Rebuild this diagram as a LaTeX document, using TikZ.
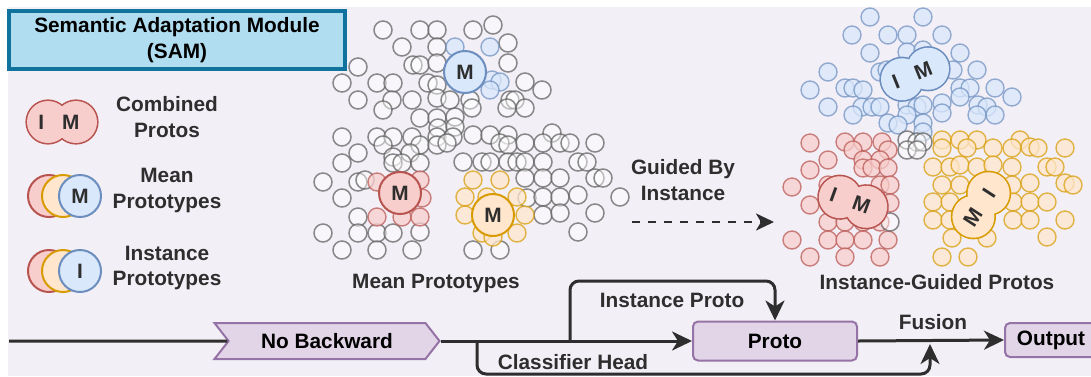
\documentclass[tikz,border=0pt]{standalone}
\usepackage{fontspec}
\setmainfont{Liberation Sans}
\usetikzlibrary{arrows.meta,shapes.symbols}

\definecolor{bgL}{HTML}{F3EFF6}
\definecolor{txtC}{HTML}{2E2E2E}
\definecolor{lineC}{HTML}{2E2E2E}
\definecolor{samF}{HTML}{B1DDF0}
\definecolor{samD}{HTML}{10739E}
\definecolor{redF}{HTML}{F8CECC}
\definecolor{redD}{HTML}{B85450}
\definecolor{yelF}{HTML}{FFE6CC}
\definecolor{yelD}{HTML}{D79B00}
\definecolor{bluF}{HTML}{DAE8FC}
\definecolor{bluD}{HTML}{6C8EBF}
\definecolor{purF}{HTML}{E1D5E7}
\definecolor{purD}{HTML}{9673A6}
\definecolor{grayD}{HTML}{5A5A5A}

\tikzset{
  pics/combo/.style n args={4}{code={
    \draw[draw=#2, line width=3.2pt] (-14,0) circle[radius=21] (14,0) circle[radius=21];
    \fill[#1] (-14,0) circle[radius=21] (14,0) circle[radius=21];
    \node[txt, transform shape] (-lbl) at (-3,0) {#3\hspace{18pt}#4};
  }}
}

\begin{document}
\begin{tikzpicture}[x=1pt,y=-1pt,
    txt/.style={font=\bfseries\fontsize{20.8}{25.5}\selectfont, text=txtC,
      align=center, inner sep=0pt},
    gdot/.style={draw=grayD, fill=white, draw opacity=.7, fill opacity=.45, line width=1.5pt},
    rdot/.style={draw=redD, fill=redF, draw opacity=.7, fill opacity=.75, line width=1.4pt},
    ydot/.style={draw=yelD, fill=yelF, draw opacity=.7, fill opacity=.75, line width=1.4pt},
    bdot/.style={draw=bluD, fill=bluF, draw opacity=.7, fill opacity=.75, line width=1.4pt},
    bigdot/.style={line width=2pt},
    box/.style={draw=purD, fill=purF, line width=2pt, rounded corners=5,
      font=\bfseries\fontsize{20.8}{25.5}\selectfont, inner sep=0pt},
    sig/.style={signal, signal to=east, signal from=west, signal pointer angle=104,
      draw=purD, fill=purF, line width=2pt,
      font=\bfseries\fontsize{20.8}{25.5}\selectfont, inner sep=0pt},
    flow/.style={draw=lineC, line width=3pt},
    arr/.style={-{Stealth[length=20pt,width=19pt,inset=6pt]}}]
  \useasboundingbox (0,0) rectangle (1091,376);
  \fill[white] (0,0) rectangle (1091,376);
  \fill[bgL] (8,7) rectangle (1091,376);

  % title
  \node[draw=samD, fill=samF, line width=4pt, minimum width=336, minimum height=58,
    font=\bfseries\fontsize{20.8}{25.5}\selectfont, align=center, inner sep=0pt]
    (sam) at (177,40) {Semantic Adaptation Module\\(SAM)};

  % legend
  \pic[rotate=0] (lgC) at (62,122) {combo={redF}{redD}{I}{M}};
  \node[txt] (lgCtxt) at (167,117) {Combined\\Protos};
  \foreach \yy/\ll/\nm in {196/M/lgM, 271/I/lgI} {
    \draw[bigdot, draw=redD, fill=redF] (49,\yy) circle[radius=21];
    \draw[bigdot, draw=yelD, fill=yelF] (63,\yy) circle[radius=21];
    \draw[bigdot, draw=bluD, fill=bluF] (80,\yy) circle[radius=21];
    \node[txt] (\nm) at (80,\yy) {\ll};
  }
  \node[txt] (lgMtxt) at (167,190.5) {Mean\\Prototypes};
  \node[txt] (lgItxt) at (167,268) {Instance\\Prototypes};

  % mean prototypes cloud
  \foreach \x/\y in {383/30,420/30,437/30,473/30,493/25,402/47,437/47,508/43,
      358/67,413/65,420/65,437/63,508/63,342/83,377/83,393/83,428/83,437/85,525/82,542/90,
      358/100,392/100,412/100,437/98,450/100,470/100,510/100,515/100,
      383/110,420/118,437/118,455/117,472/108,507/108,525/108,438/128,455/127,
      342/137,377/137,393/137,412/137,437/137,453/137,473/135,490/135,508/135,552/133,
      383/145,420/145,437/145,447/143,500/143,508/145,525/143,543/143,560/143,570/143,595/143,
      358/153,393/157,410/153,342/163,393/163,402/163,420/163,463/162,482/162,490/162,
      508/162,517/162,525/162,543/162,578/162,587/162,
      323/182,358/182,365/180,525/178,543/178,560/178,595/178,603/178,
      342/198,527/198,543/197,560/197,578/195,620/197,358/217,543/215,560/213,595/213,
      323/233,358/233,377/233,393/233,420/232,578/232,342/250,377/250,412/250,473/250,500/250}
    \draw[gdot] (\x,\y) circle[radius=9];
  \foreach \x/\y in {455/47,490/47,492/80,500/82,490/90}
    \draw[bdot] (\x,\y) circle[radius=9];
  \foreach \x/\y in {377/182,420/180,422/198,377/217,402/217,420/217}
    \draw[rdot] (\x,\y) circle[radius=9];
  \foreach \x/\y in {473/180,500/180,465/197,487/197,517/197,465/215,525/215,482/233,517/233,493/237}
    \draw[ydot] (\x,\y) circle[radius=9];
  \draw[bigdot, draw=bluD, fill=bluF] (465,72) circle[radius=21];
  \node[txt] (mB) at (465,72) {M};
  \draw[bigdot, draw=redD, fill=redF] (400,193) circle[radius=21];
  \node[txt] (mR) at (400,193) {M};
  \draw[bigdot, draw=yelD, fill=yelF] (493,215) circle[radius=21];
  \node[txt] (mY) at (493,215) {M};
  \node[txt] (meanLbl) at (436,283) {Mean Prototypes};

  % guided by instance
  \node[txt] (guide) at (683,180) {Guided By\\Instance};
  \coordinate (g1) at (632,222);
  \coordinate (g2) at (774,222);
  \draw[flow, -{Stealth[length=18pt,width=17pt,inset=5pt]}, line width=2.6pt,
    dash pattern=on 8pt off 8pt] (g1) -- (g2);

  % instance-guided cloud
  \foreach \x/\y in {870/17,923/17,852/35,888/35,907/35,942/35,870/53,907/52,923/50,960/53,
      828/72,880/72,887/70,953/70,977/70,810/90,845/88,853/88,863/90,960/88,970/88,995/88,1012/97,
      828/107,862/107,872/107,880/107,907/105,917/107,923/105,942/103,960/97,978/105,987/107,
      853/115,907/115,942/113,977/115,995/115,888/123,898/125,923/123,923/132}
    \draw[bdot] (\x,\y) circle[radius=9];
  \foreach \x/\y in {907/140,917/142,923/142,907/150,917/150}
    \draw[gdot] (\x,\y) circle[radius=9];
  \foreach \x/\y in {810/143,845/142,863/142,882/142,853/150,888/150,828/160,863/160,880/160,
      810/170,863/168,872/168,888/168,792/187,828/185,880/185,890/185,810/205,890/203,
      828/222,845/222,863/222,880/222,792/240,828/240,845/240,863/240,888/240,810/257,845/257,880/257}
    \draw[rdot] (\x,\y) circle[radius=9];
  \draw[gdot] (890,222) circle[radius=9];
  \foreach \x/\y in {942/140,960/140,977/140,1020/140,942/148,967/148,993/148,1012/148,1030/147,
      1038/148,1065/148,933/167,950/167,960/165,977/167,993/165,1012/167,1047/167,1055/167,
      942/185,960/185,1012/185,1030/183,1065/183,1073/185,933/202,950/202,1013/202,1030/202,1047/202,
      933/220,950/220,1013/220,1030/220,1065/220,952/238,987/238,1047/237,942/257,968/257}
    \draw[ydot] (\x,\y) circle[radius=9];
  \pic[rotate=22] (cbB) at (915,74) {combo={bluF}{bluD}{I}{M}};
  \pic[rotate=-20] (cbR) at (853,202) {combo={redF}{redD}{I}{M}};
  \pic[rotate=57] (cbY) at (981,205) {combo={yelF}{yelD}{M}{I}};
  \node[txt] (igLbl) at (937,282) {Instance-Guided Protos};

  % bottom flow
  \node[sig, minimum width=225, minimum height=36] (nb) at (327,341) {No Backward};
  \node[box, minimum width=164, minimum height=39] (proto) at (775,341) {Proto};
  \node[box, minimum width=92, minimum height=34] (out) at (1051,340) {Output};
  \coordinate (start) at (9,341);
  \coordinate (up) at (570,341);
  \coordinate (dn) at (477,341);
  \coordinate (top) at (0,281);
  \coordinate (fuse) at (930,344);
  \draw[flow] (start) -- (nb);
  \draw[flow, arr] (nb.east) -- (proto.west);
  \draw[flow, arr, rounded corners=9] (up) |- (proto.north |- top) -- (proto.north);
  \draw[flow, arr, rounded corners=9] (dn) |- (930,374) -- (fuse);
  \draw[flow, arr] (proto.east) -- (out.west);
  \node[txt] (instLbl) at (672,300) {Instance Proto};
  \node[txt] (clsLbl) at (573,362) {Classifier Head};
  \node[txt] (fusLbl) at (933,322) {Fusion};
\end{tikzpicture}
\end{document}
